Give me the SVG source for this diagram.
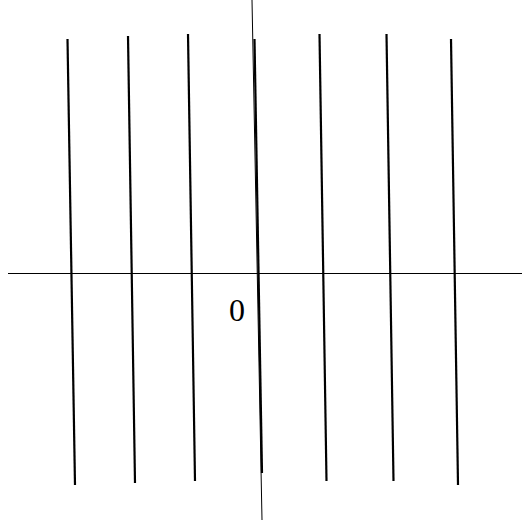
<svg xmlns="http://www.w3.org/2000/svg" width="524" height="523" viewBox="0 0 524 523">
<style>
.axis{stroke:#000;stroke-width:1;fill:none}
.ln{stroke:#000;stroke-width:2.2;fill:none}
.lbl{font-family:"Liberation Serif",serif;font-size:32px;fill:#000}
</style>
<rect width="524" height="523" fill="#fff"/>
<g id="axes">
<line class="axis" x1="8" y1="273.5" x2="522" y2="273.5"/>
<line class="axis" x1="252" y1="0" x2="262" y2="520"/>
</g>
<g id="lines">
<line class="ln" x1="67.5" y1="39" x2="75" y2="485"/>
<line class="ln" x1="128" y1="36" x2="135" y2="483"/>
<line class="ln" x1="188" y1="34" x2="195" y2="481"/>
<line class="ln" x1="254.5" y1="39" x2="262" y2="473"/>
<line class="ln" x1="319.5" y1="34" x2="326.5" y2="481"/>
<line class="ln" x1="386.5" y1="34" x2="393.5" y2="481"/>
<line class="ln" x1="451" y1="39" x2="458" y2="485"/>
</g>
<g id="label">
<text class="lbl" x="237" y="320.5" text-anchor="middle">0</text>
</g>
</svg>
